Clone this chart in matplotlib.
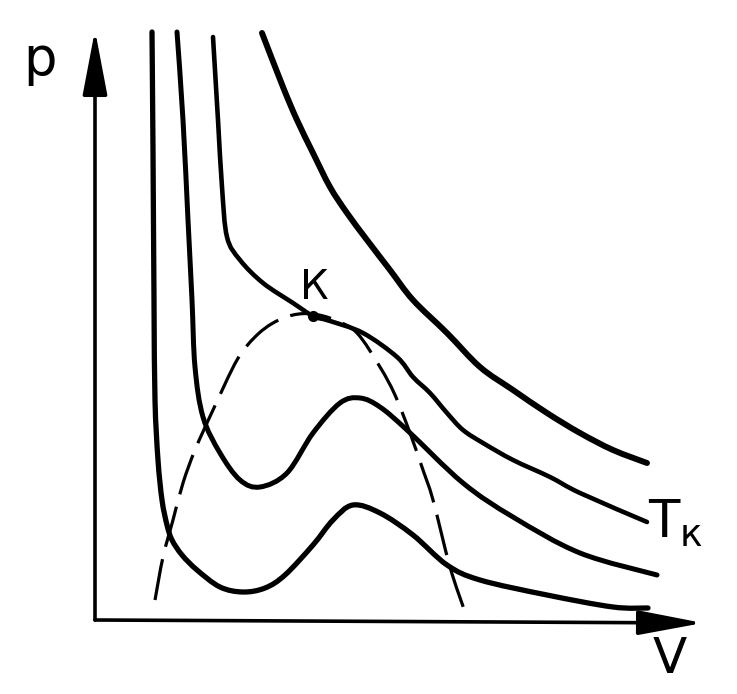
import matplotlib.pyplot as plt
from matplotlib.path import Path
from matplotlib.patches import PathPatch, FancyArrowPatch

# isotherms (V, p in arbitrary units, origin at axes corner)
v1 = [57, 58, 59, 60, 63, 67, 72, 77, 87, 102, 125, 148, 170, 190, 218, 238, 258, 285, 318, 352, 385, 452, 518, 553]
p1 = [588, 470, 320, 220, 160, 120, 95, 80, 65, 50, 33, 28, 32, 45, 75, 100, 115, 107, 85, 55, 40, 25, 13, 12]

v2 = [82, 88, 93, 97, 100, 108, 125, 145, 165, 192, 218, 245, 265, 285, 312, 368, 418, 485, 562]
p2 = [588, 500, 400, 320, 253, 203, 167, 140, 133, 147, 187, 217, 222, 213, 190, 137, 103, 67, 45]

# critical isotherm Tk
v3 = [118, 123, 127, 132, 145, 168, 198, 218, 235, 268, 302, 318, 335, 352, 368, 388, 418, 455, 485, 552]
p3 = [583, 500, 433, 383, 360, 337, 317, 304, 299, 287, 263, 243, 227, 207, 190, 177, 160, 143, 127, 98]

v4 = [167, 188, 202, 218, 235, 252, 272, 295, 318, 352, 385, 418, 452, 485, 518, 552]
p4 = [587, 533, 500, 467, 433, 407, 380, 350, 320, 287, 253, 230, 207, 187, 170, 157]

# two-phase boundary (dashed)
v_dome = [60, 68, 78, 88, 100, 118, 142, 160, 178, 198, 218, 240, 262, 285, 300, 315, 328, 338, 355, 370]
p_dome = [20, 63, 100, 137, 170, 210, 260, 283, 297, 305, 306, 300, 287, 253, 225, 187, 150, 120, 53, 8]

v_crit, p_crit = 218, 304


def smooth_path(xs, ys):
    # catmull-rom through the points, drawn as cubic beziers
    pts = list(zip(xs, ys))
    verts = [pts[0]]
    codes = [Path.MOVETO]
    for i in range(len(pts) - 1):
        p0 = pts[i - 1] if i > 0 else pts[i]
        a, b = pts[i], pts[i + 1]
        p3_ = pts[i + 2] if i + 2 < len(pts) else b
        c1 = (a[0] + (b[0] - p0[0]) / 6, a[1] + (b[1] - p0[1]) / 6)
        c2 = (b[0] - (p3_[0] - a[0]) / 6, b[1] - (p3_[1] - a[1]) / 6)
        verts += [c1, c2, b]
        codes += [Path.CURVE4] * 3
    return Path(verts, codes)


fig = plt.figure(figsize=(7.37, 6.94), dpi=100)
ax = fig.add_axes([0, 0, 1, 1])
ax.set_xlim(-95, 642)
ax.set_ylim(-74, 620)
ax.axis('off')

for v, p, lw in [(v1, p1, 3.8), (v2, p2, 3.6), (v3, p3, 3.3), (v4, p4, 4.3)]:
    ax.add_patch(PathPatch(smooth_path(v, p), fill=False, lw=lw, ec='black',
                           capstyle='round', joinstyle='round'))

ax.add_patch(PathPatch(smooth_path(v_dome, p_dome), fill=False, lw=2.3, ec='black',
                       linestyle=(0, (13, 4))))
ax.plot([v_crit], [p_crit], 'o', color='black', ms=7)

# axes with arrows
for end in [(0, 590), (608, -3)]:
    ax.add_patch(FancyArrowPatch((0, 0), end, arrowstyle='-|>,head_length=2.0,head_width=0.38',
                                 mutation_scale=20, lw=2.6, color='black',
                                 shrinkA=0, shrinkB=0))

ax.text(-55, 560, 'p', fontsize=38, ha='center', va='center')
ax.text(575, -39, 'V', fontsize=36, ha='center', va='center')
ax.text(219, 332, 'К', fontsize=29, ha='center', va='center')
ax.text(569, 97, 'T', fontsize=37, ha='center', va='center')
ax.text(596, 84, 'к', fontsize=27, ha='center', va='center')

fig.savefig('out.png', dpi=100)
